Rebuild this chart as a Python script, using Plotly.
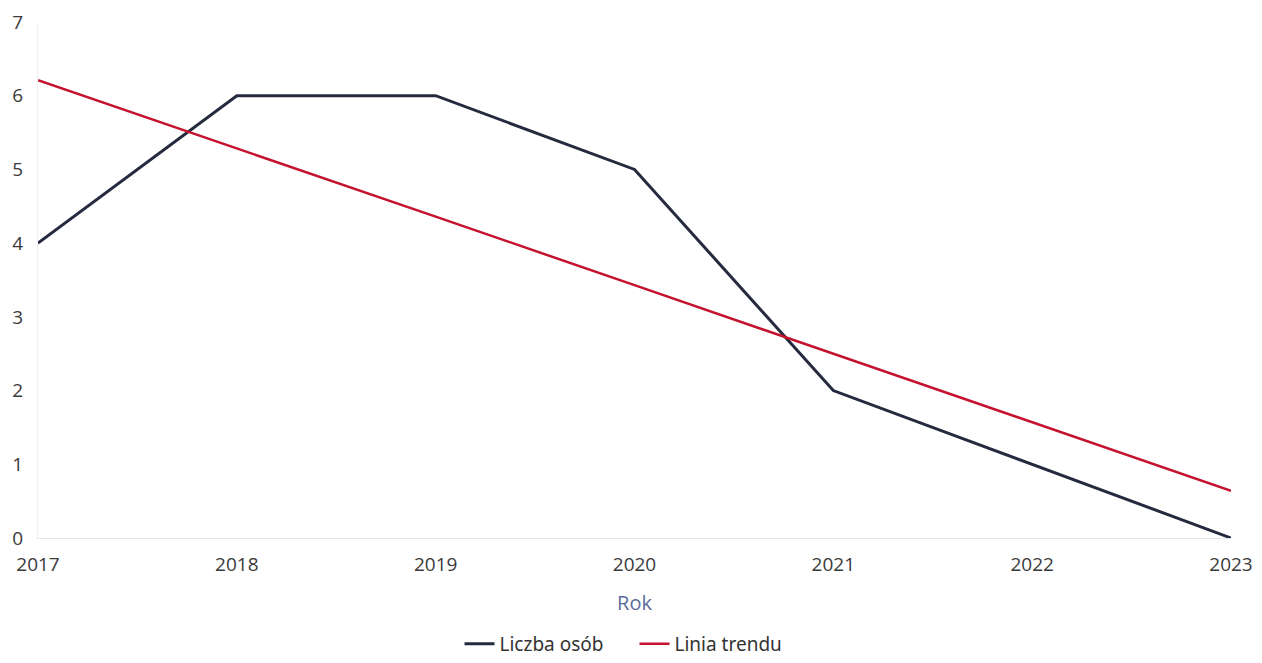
import plotly.graph_objects as go

years = [2017, 2018, 2019, 2020, 2021, 2022, 2023]
liczba_osob = [4, 6, 6, 5, 2, 1, 0]
linia_trendu = [6.21, 5.29, 4.36, 3.43, 2.50, 1.57, 0.64]

fig = go.Figure()
fig.add_trace(
    go.Scatter(
        name="Liczba osób",
        x=years,
        y=liczba_osob,
        mode="lines",
        line=dict(color="#262a3e", width=3)
    )
)
fig.add_trace(
    go.Scatter(
        name="Linia trendu",
        x=years,
        y=linia_trendu,
        mode="lines",
        line=dict(color="#c4122f", width=2.5)
    )
)

# page body adds an 8px margin, so the figure is shifted by 8px
fig.update_layout(
    width=1246,
    height=655,
    margin=dict(l=30, r=23, t=14, b=125),
    plot_bgcolor="white",
    paper_bgcolor="white",
    font=dict(family="Open Sans", size=19, color="#333333"),
    xaxis=dict(
        range=[2017, 2023],
        tickvals=years,
        showgrid=False,
        zeroline=False,
        showline=True,
        linecolor="#e2e6ef",
        linewidth=1,
        ticks="",
        automargin=False,
        ticklabelstandoff=9,
        tickfont=dict(size=19, color="#3a3a3a"),
        title=dict(text="Rok", font=dict(size=20, color="#5b6b9a"), standoff=20)
    ),
    yaxis=dict(
        range=[0, 7],
        dtick=1,
        showgrid=False,
        zeroline=False,
        showline=True,
        linecolor="#eef0f5",
        linewidth=1,
        ticks="",
        automargin=False,
        ticklabelstandoff=10,
        tickfont=dict(size=19, color="#3a3a3a")
    ),
    legend=dict(
        orientation="h",
        x=0.5,
        xanchor="center",
        yref="container",
        y=-0.008,
        yanchor="bottom",
        font=dict(family="Noto Sans", size=19, color="#333333"),
        itemwidth=30,
        entrywidth=130
    ),
    showlegend=True
)

fig.write_html("out.html")
